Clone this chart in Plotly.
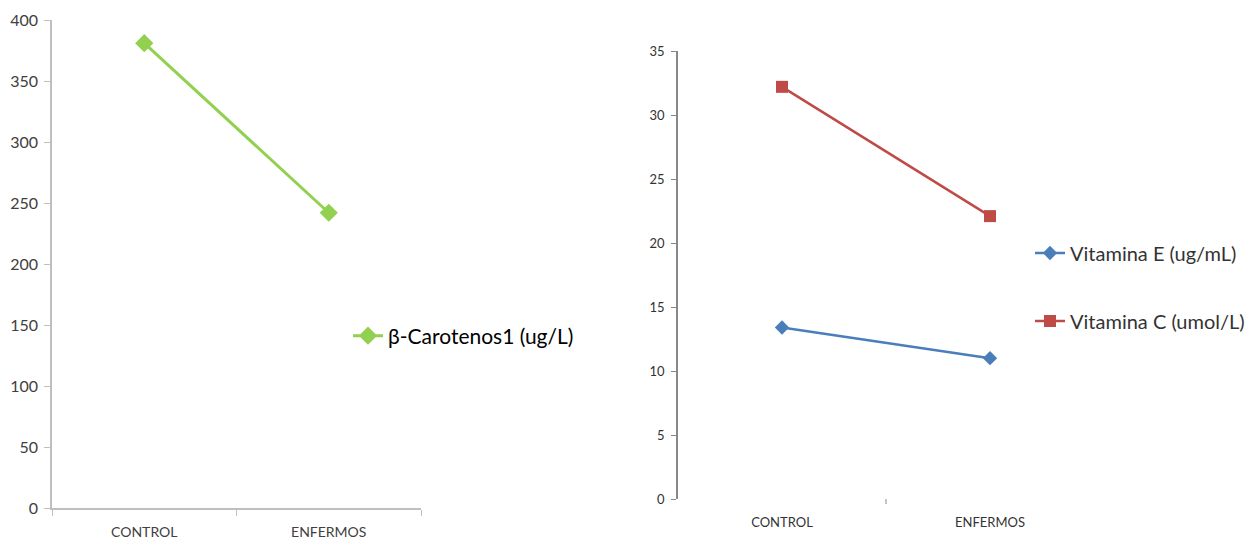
import plotly.graph_objects as go

categories = ["CONTROL", "ENFERMOS"]
beta_carotenos = [381, 242]
vitamina_e = [13.4, 11.0]
vitamina_c = [32.2, 22.1]

W, H = 1257, 542

def px_x(p):
    return p / W

def px_y(p):
    return (H - p) / H

fig = go.Figure()

fig.add_trace(go.Scatter(
    x=categories, y=beta_carotenos, name="β-Carotenos1 (ug/L)",
    mode="lines+markers", xaxis="x", yaxis="y", legend="legend",
    line=dict(color="#92d050", width=3),
    marker=dict(symbol="diamond", size=14, color="#92d050"),
))
fig.add_trace(go.Scatter(
    x=[0, 1], y=vitamina_e, name="Vitamina E (ug/mL)",
    mode="lines+markers", xaxis="x2", yaxis="y2", legend="legend2",
    line=dict(color="#4a7ebb", width=2.5),
    marker=dict(symbol="diamond", size=11, color="#4a7ebb"),
))
fig.add_trace(go.Scatter(
    x=[0, 1], y=vitamina_c, name="Vitamina C (umol/L)",
    mode="lines+markers", xaxis="x2", yaxis="y2", legend="legend3",
    line=dict(color="#be4b48", width=2.5),
    marker=dict(symbol="square", size=12, color="#be4b48"),
))

font = "Lato, 'Open Sans', sans-serif"

fig.update_layout(
    width=W, height=H,
    margin=dict(l=0, r=0, t=0, b=0, autoexpand=False),
    paper_bgcolor="white", plot_bgcolor="white",
    font=dict(family=font, color="#404040"),
    xaxis=dict(
        domain=[px_x(52), px_x(421)], anchor="y", automargin=False,
        type="category", range=[-0.5, 1.5], tickson="boundaries",
        showline=True, linecolor="#bfbfbf", linewidth=1.5,
        ticks="outside", ticklen=6, tickcolor="#bfbfbf",
        ticklabelstandoff=10,
        showgrid=False, zeroline=False,
        tickfont=dict(size=14, color="#404040"),
    ),
    yaxis=dict(
        domain=[px_y(508), px_y(20)], anchor="x", automargin=False,
        range=[0, 400], dtick=50,
        showline=True, linecolor="#bfbfbf", linewidth=1.5,
        ticks="outside", ticklen=6, tickcolor="#bfbfbf",
        ticklabelstandoff=3,
        showgrid=False, zeroline=False,
        tickfont=dict(size=16, color="#404040"),
    ),
    xaxis2=dict(
        domain=[px_x(678), px_x(1094)], anchor="y2", automargin=False,
        range=[-0.5, 1.5], tickvals=[0, 1], ticktext=categories,
        showline=False, ticks="", showgrid=False, zeroline=False,
        ticklabelstandoff=14,
        tickfont=dict(size=13, color="#333333"),
    ),
    yaxis2=dict(
        domain=[px_y(499), px_y(51)], anchor="x2", automargin=False,
        range=[0, 35], dtick=5,
        showline=True, linecolor="#888888", linewidth=1.5,
        ticks="outside", ticklen=5, tickcolor="#888888",
        ticklabelstandoff=4,
        showgrid=False, zeroline=False,
        tickfont=dict(size=13, color="#333333"),
    ),
    legend=dict(x=px_x(348), y=px_y(336), xanchor="left", yanchor="middle",
                font=dict(size=21, color="#000000"), bgcolor="rgba(0,0,0,0)"),
    legend2=dict(x=px_x(1030), y=px_y(253), xanchor="left", yanchor="middle",
                 font=dict(size=20, color="#333333"), bgcolor="rgba(0,0,0,0)"),
    legend3=dict(x=px_x(1030), y=px_y(321), xanchor="left", yanchor="middle",
                 font=dict(size=20, color="#333333"), bgcolor="rgba(0,0,0,0)"),
    showlegend=True,
    shapes=[dict(type="line", xref="x2", yref="paper",
                 x0=0.5, x1=0.5, y0=px_y(499), y1=px_y(504),
                 line=dict(color="#888888", width=1))],
)

fig.write_html("out.html",
               config={"displayModeBar": False},
               post_script="document.body.style.margin='0';document.body.style.overflow='hidden';")
